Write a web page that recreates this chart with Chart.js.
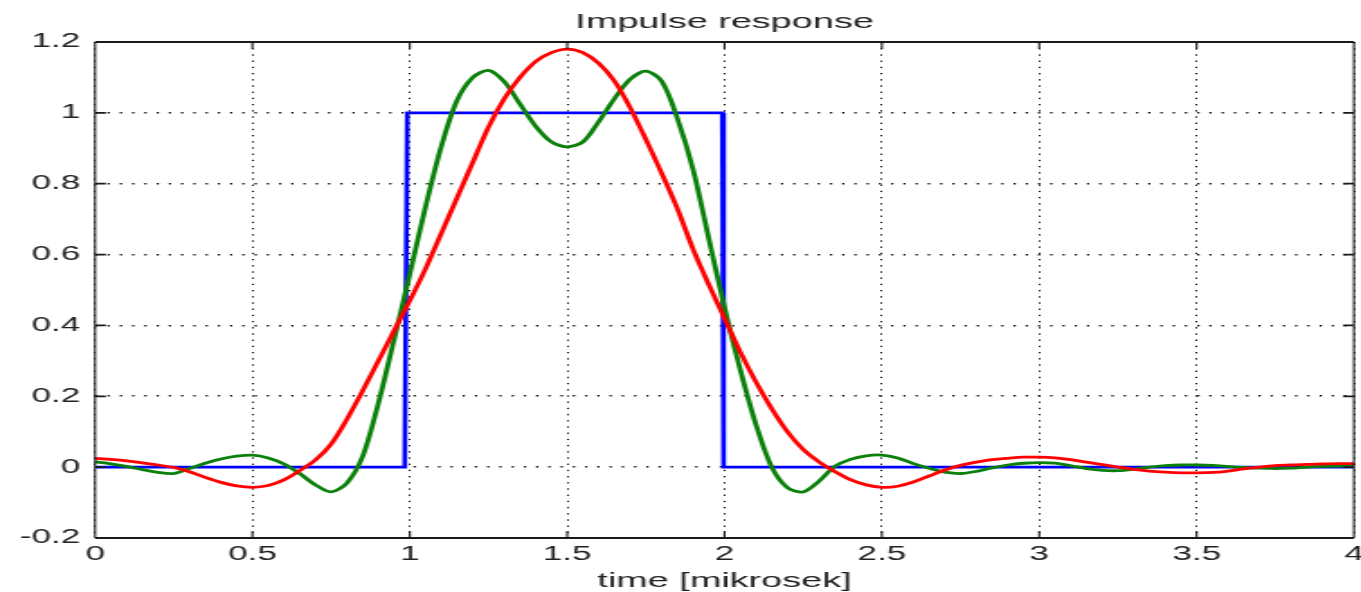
<!DOCTYPE html>
<html>
<head>
<meta charset="utf-8">
<title>Impulse response</title>
<script src="https://cdn.jsdelivr.net/npm/chart.js@4.4.0/dist/chart.umd.min.js"></script>
<style>
  html, body { margin: 0; padding: 0; background: #fff; overflow: hidden; }
</style>
</head>
<body>
<!-- drawn narrow and stretched sideways, like the original figure -->
<canvas id="plot" width="756" height="592" style="width:1361px;height:592px;display:block"></canvas>
<script>
// sample times (mikrosek)
const sampleTimes = [
  0.00, 0.05, 0.10, 0.15, 0.20, 0.25, 0.30, 0.35, 0.40, 0.45,
  0.50, 0.55, 0.60, 0.65, 0.70, 0.75, 0.80, 0.85, 0.90, 0.95,
  1.00, 1.05, 1.10, 1.15, 1.20, 1.25, 1.30, 1.35, 1.40, 1.45,
  1.50, 1.55, 1.60, 1.65, 1.70, 1.75, 1.80, 1.85, 1.90, 1.95,
  2.00, 2.05, 2.10, 2.15, 2.20, 2.25, 2.30, 2.35, 2.40, 2.45,
  2.50, 2.55, 2.60, 2.65, 2.70, 2.75, 2.80, 2.85, 2.90, 2.95,
  3.00, 3.05, 3.10, 3.15, 3.20, 3.25, 3.30, 3.35, 3.40, 3.45,
  3.50, 3.55, 3.60, 3.65, 3.70, 3.75, 3.80, 3.85, 3.90, 3.95,
  4.00
];

// red curve
const redResponse = [
  0.025, 0.022, 0.018, 0.012, 0.006, -0.001, -0.013, -0.029, -0.043, -0.053,
  -0.057, -0.052, -0.036, -0.010, 0.020, 0.065, 0.135, 0.215, 0.300, 0.385,
  0.470, 0.560, 0.660, 0.760, 0.860, 0.960, 1.040, 1.100, 1.145, 1.170,
  1.180, 1.170, 1.140, 1.090, 1.015, 0.925, 0.830, 0.730, 0.615, 0.515,
  0.420, 0.325, 0.240, 0.165, 0.100, 0.050, 0.015, -0.012, -0.035, -0.050,
  -0.057, -0.054, -0.042, -0.025, -0.008, 0.005, 0.014, 0.021, 0.025, 0.028,
  0.028, 0.026, 0.021, 0.014, 0.007, 0.000, -0.006, -0.011, -0.014, -0.016,
  -0.016, -0.015, -0.011, -0.005, 0.000, 0.004, 0.006, 0.008, 0.009, 0.010,
  0.010
];

// green curve
const greenResponse = [
  0.015, 0.009, 0.002, -0.007, -0.015, -0.018, -0.004, 0.011, 0.023, 0.031,
  0.034, 0.026, 0.009, -0.018, -0.050, -0.070, -0.045, 0.030, 0.180, 0.360,
  0.545, 0.735, 0.905, 1.035, 1.100, 1.120, 1.088, 1.025, 0.962, 0.918,
  0.904, 0.918, 0.975, 1.040, 1.095, 1.118, 1.090, 0.985, 0.840, 0.645,
  0.450, 0.275, 0.120, 0.000, -0.058, -0.070, -0.040, 0.002, 0.022, 0.032,
  0.034, 0.026, 0.010, -0.003, -0.014, -0.018, -0.012, -0.002, 0.006, 0.011,
  0.013, 0.011, 0.004, -0.004, -0.009, -0.010, -0.006, 0.000, 0.004, 0.006,
  0.006, 0.005, 0.002, -0.001, -0.003, -0.004, -0.003, 0.000, 0.002, 0.003,
  0.003
];

// blue rectangular pulse
const blueTimes = [0, 0.984, 0.992, 1.993, 1.997, 4];
const blueResponse = [0, 0, 1, 1, 0, 0];

const xTickValues = [0, 0.5, 1, 1.5, 2, 2.5, 3, 3.5, 4];
const xTickLabels = ['0', '0.5', '1', '1.5', '2', '2.5', '3', '3.5', '4'];
const yTickValues = [-0.2, 0, 0.2, 0.4, 0.6, 0.8, 1, 1.2];
const yTickLabels = ['-0.2', '0', '0.2', '0.4', '0.6', '0.8', '1', '1.2'];

const fontFamily = "'Liberation Sans', Arial, Helvetica, sans-serif";

function toPoints(xs, ys) {
  return xs.map((x, i) => ({ x: x, y: ys[i] }));
}

// box round the plot with small inward tick marks (matlab style)
const frame = {
  id: 'frame',
  afterDatasetsDraw(chart) {
    const { ctx, chartArea: a, scales: { x, y } } = chart;
    ctx.save();
    ctx.strokeStyle = '#1a1a1a';

    ctx.lineWidth = 1.8;
    ctx.beginPath();
    ctx.moveTo(a.left, a.top); ctx.lineTo(a.right, a.top);
    ctx.moveTo(a.left, a.bottom); ctx.lineTo(a.right, a.bottom);
    y.ticks.forEach(t => {
      const py = y.getPixelForValue(t.value);
      ctx.moveTo(a.left, py); ctx.lineTo(a.left + 6, py);
      ctx.moveTo(a.right, py); ctx.lineTo(a.right - 6, py);
    });
    ctx.stroke();

    ctx.lineWidth = 1.1;
    ctx.beginPath();
    ctx.moveTo(a.left, a.top); ctx.lineTo(a.left, a.bottom);
    ctx.moveTo(a.right, a.top); ctx.lineTo(a.right, a.bottom);
    x.ticks.forEach(t => {
      const px = x.getPixelForValue(t.value);
      ctx.moveTo(px, a.bottom); ctx.lineTo(px, a.bottom - 7);
      ctx.moveTo(px, a.top); ctx.lineTo(px, a.top + 7);
    });
    ctx.stroke();
    ctx.restore();
  }
};

new Chart(document.getElementById('plot'), {
  type: 'line',
  data: {
    datasets: [
      {
        data: toPoints(sampleTimes, redResponse),
        borderColor: '#ff0000',
        borderWidth: 2.8,
        tension: 0.3
      },
      {
        data: toPoints(sampleTimes, greenResponse),
        borderColor: '#0a800a',
        borderWidth: 2.8,
        tension: 0.3
      },
      {
        data: toPoints(blueTimes, blueResponse),
        borderColor: '#0000ff',
        borderWidth: 2.6,
        tension: 0
      }
    ]
  },
  options: {
    responsive: false,
    devicePixelRatio: 1,
    animation: false,
    events: [],
    elements: { point: { radius: 0 } },
    layout: { padding: { left: 0, right: 3.9, top: 0, bottom: 0 } },
    plugins: {
      legend: { display: false },
      tooltip: { enabled: false },
      title: {
        display: true,
        text: 'Impulse response',
        fullSize: false,
        color: '#222',
        font: { family: fontFamily, size: 21, weight: 'normal', lineHeight: 1.2 },
        padding: { top: 9.4, bottom: 7.4 }
      }
    },
    scales: {
      x: {
        type: 'linear',
        min: 0,
        max: 4,
        afterBuildTicks: s => { s.ticks = xTickValues.map(v => ({ value: v })); },
        afterFit: s => { s.height = 54; s.paddingLeft = 0; s.paddingRight = 0; },
        ticks: {
          autoSkip: false,
          maxRotation: 0,
          padding: 5.4,
          color: '#222',
          font: { family: fontFamily, size: 19.5, lineHeight: 1.2 },
          callback: (v, i) => xTickLabels[i]
        },
        grid: { color: '#000', lineWidth: 1, drawTicks: false },
        border: { display: false, dash: [1.3, 4.9] },
        title: {
          display: true,
          text: 'time [mikrosek]',
          color: '#222',
          font: { family: fontFamily, size: 21, lineHeight: 1 },
          padding: { top: 0, bottom: 0.5 }
        }
      },
      y: {
        min: -0.2,
        max: 1.2,
        afterBuildTicks: s => { s.ticks = yTickValues.map(v => ({ value: v })); },
        afterFit: s => { s.width = 52.8; s.paddingTop = 0; s.paddingBottom = 0; },
        ticks: {
          padding: 8.3,
          color: '#222',
          font: { family: fontFamily, size: 19.5, lineHeight: 1.2 },
          callback: (v, i) => yTickLabels[i]
        },
        grid: { color: '#000', lineWidth: 1.6, drawTicks: false },
        border: { display: false, dash: [1.2, 5.6] }
      }
    }
  },
  plugins: [frame]
});
</script>
</body>
</html>
